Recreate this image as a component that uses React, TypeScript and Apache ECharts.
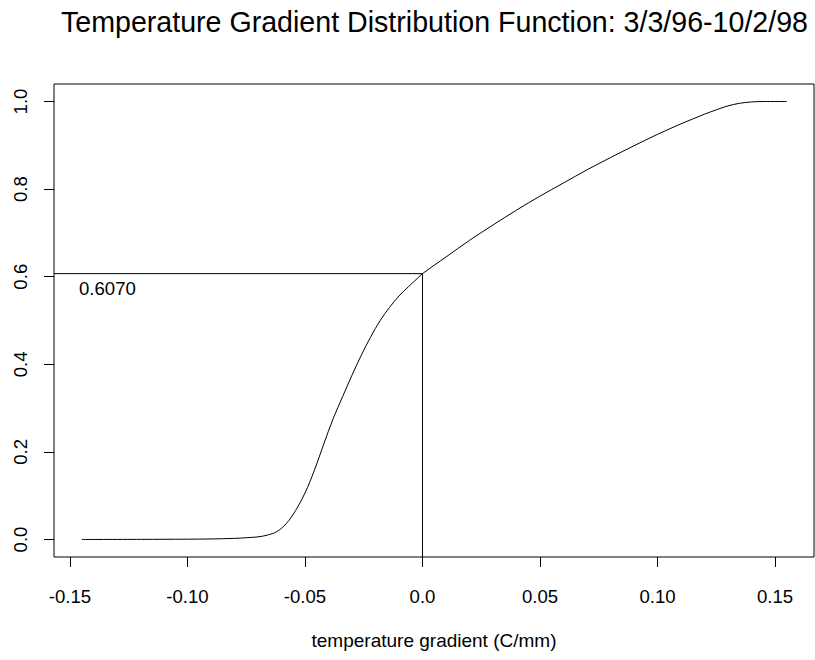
import React, { useEffect, useRef } from "react";
import * as echarts from "echarts";

const titleText = "Temperature Gradient Distribution Function: 3/3/96-10/2/98";
const xAxisTitle = "temperature gradient (C/mm)";

// CDF curve
const gradientX = [
  -0.145, -0.12, -0.1, -0.09, -0.08, -0.075, -0.07, -0.066, -0.062, -0.058,
  -0.054, -0.05, -0.046, -0.042, -0.038, -0.034, -0.03, -0.026, -0.022,
  -0.018, -0.014, -0.01, -0.006, -0.002, 0, 0.01, 0.02, 0.03, 0.04, 0.05,
  0.06, 0.07, 0.08, 0.09, 0.1, 0.11, 0.12, 0.125, 0.13, 0.135, 0.14, 0.145,
  0.155,
];
const cdfY = [
  0, 0.0003, 0.0007, 0.0012, 0.0025, 0.004, 0.006, 0.01, 0.018, 0.036, 0.066,
  0.106, 0.158, 0.218, 0.276, 0.326, 0.375, 0.421, 0.463, 0.5, 0.53, 0.556,
  0.577, 0.597, 0.607, 0.645, 0.683, 0.718, 0.752, 0.784, 0.814, 0.844, 0.872,
  0.899, 0.925, 0.949, 0.971, 0.981, 0.99, 0.996, 0.999, 1.0, 1.0,
];

// reference marker
const refX = 0;
const refY = 0.607;
const refLabel = "0.6070";

// axis ticks
const xTickValues = [-0.15, -0.1, -0.05, 0, 0.05, 0.1, 0.15];
const xTickLabels = ["-0.15", "-0.10", "-0.05", "0.0", "0.05", "0.10", "0.15"];
const yTickValues = [0, 0.2, 0.4, 0.6, 0.8, 1.0];
const yTickLabels = ["0.0", "0.2", "0.4", "0.6", "0.8", "1.0"];

const X_MIN = -0.1568;
const X_MAX = 0.1666;
const Y_MIN = -0.04;
const Y_MAX = 1.04;

const FONT = "'Liberation Sans', Arial, Helvetica, sans-serif";

function labelFor(values: number[], labels: string[], v: number): string {
  let best = 0;
  for (let i = 1; i < values.length; i++) {
    if (Math.abs(values[i] - v) < Math.abs(values[best] - v)) best = i;
  }
  return Math.abs(values[best] - v) < 1e-6 ? labels[best] : "";
}

export default function App() {
  const ref = useRef<HTMLDivElement>(null);

  useEffect(() => {
    if (!ref.current) return;
    const chart = echarts.init(ref.current, null, { renderer: "svg" });
    const curve = gradientX.map((x, i) => [x, cdfY[i]]);
    const refLine = [
      [X_MIN, refY],
      [refX, refY],
      [refX, Y_MIN],
    ];
    chart.setOption({
      animation: false,
      backgroundColor: "#ffffff",
      grid: {
        left: 54,
        right: 1,
        top: 84,
        bottom: 103,
        show: true,
        borderColor: "#000000",
        borderWidth: 1,
        backgroundColor: "transparent",
      },
      xAxis: {
        type: "value",
        min: X_MIN,
        max: X_MAX,
        axisLine: { show: false, onZero: false },
        splitLine: { show: false },
        axisTick: {
          show: true,
          inside: false,
          length: 10,
          lineStyle: { color: "#000000", width: 1 },
          customValues: xTickValues,
        },
        axisLabel: {
          customValues: xTickValues,
          formatter: (v: number) => labelFor(xTickValues, xTickLabels, v),
          color: "#000000",
          fontFamily: FONT,
          fontSize: 18.6,
          margin: 30,
        },
      },
      yAxis: {
        type: "value",
        min: Y_MIN,
        max: Y_MAX,
        axisLine: { show: false, onZero: false },
        splitLine: { show: false },
        axisTick: {
          show: true,
          inside: false,
          length: 10,
          lineStyle: { color: "#000000", width: 1 },
          customValues: yTickValues,
        },
        axisLabel: {
          customValues: yTickValues,
          formatter: (v: number) => labelFor(yTickValues, yTickLabels, v),
          color: "#000000",
          fontFamily: FONT,
          fontSize: 18.6,
          rotate: 90,
          margin: 24,
        },
      },
      graphic: [
        {
          type: "text",
          x: 434.5,
          y: 22.4,
          style: {
            text: titleText,
            fill: "#000000",
            font: `28.6px ${FONT}`,
            textAlign: "center",
            textVerticalAlign: "middle",
          },
        },
        {
          type: "text",
          x: 434,
          y: 640,
          style: {
            text: xAxisTitle,
            fill: "#000000",
            font: `19px ${FONT}`,
            textAlign: "center",
            textVerticalAlign: "middle",
          },
        },
      ],
      series: [
        {
          type: "line",
          data: curve,
          showSymbol: false,
          smooth: 0.35,
          lineStyle: { color: "#000000", width: 1 },
          silent: true,
        },
        {
          type: "line",
          data: refLine,
          showSymbol: false,
          lineStyle: { color: "#000000", width: 1 },
          silent: true,
          markPoint: {
            symbol: "circle",
            symbolSize: 0,
            data: [
              {
                coord: [X_MIN, refY],
                label: {
                  show: true,
                  formatter: refLabel,
                  position: "right",
                  offset: [20, 15],
                  color: "#000000",
                  fontFamily: FONT,
                  fontSize: 18.6,
                },
              },
            ],
          },
        },
      ],
    });
    return () => chart.dispose();
  }, []);

  return (
    <div
      ref={ref}
      style={{ position: "fixed", left: 0, top: 0, width: 815, height: 660 }}
    />
  );
}
